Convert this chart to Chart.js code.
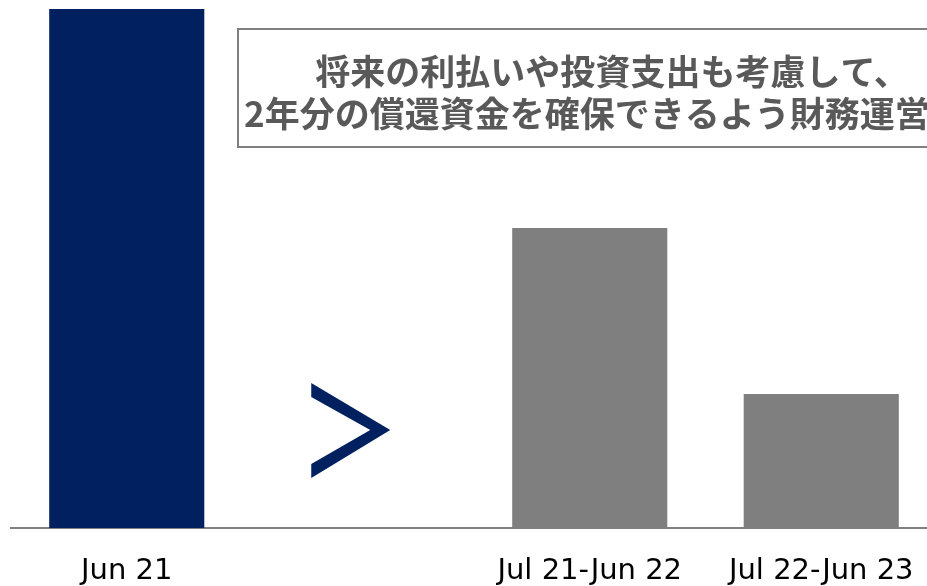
<!DOCTYPE html>
<html>
<head>
<meta charset="utf-8">
<script src="https://cdn.jsdelivr.net/npm/chart.js@4"></script>
<style>
html,body{margin:0;padding:0;background:#fff;overflow:hidden;}
#wrap{width:927px;height:586px;overflow:hidden;position:relative;}
#box{width:940px;height:586px;position:absolute;left:0;top:0;}
</style>
</head>
<body>
<div id="wrap"><div id="box"><canvas id="c"></canvas></div></div>
<script>
const categories = ["Jun 21", "", "Jul 21-Jun 22", "Jul 22-Jun 23"];
const values = [100, null, 57.8, 25.8];
const barColors = ["#002060", "#ffffff", "#7f7f7f", "#7f7f7f"];
const calloutLines = ["将来の利払いや投資支出も考慮して、", "2年分の償還資金を確保できるよう財務運営"];

const decor = {
  id: 'decor',
  afterDraw(chart) {
    const ctx = chart.ctx;
    const x = chart.scales.x;
    const bottom = chart.chartArea.bottom;
    const cx = x.getPixelForValue(1);
    ctx.save();
    ctx.fillStyle = "#002060";
    ctx.beginPath();
    ctx.moveTo(cx - 47, bottom - 145);
    ctx.lineTo(cx + 32, bottom - 98);
    ctx.lineTo(cx - 47, bottom - 50);
    ctx.lineTo(cx - 47, bottom - 64);
    ctx.lineTo(cx + 12, bottom - 98);
    ctx.lineTo(cx - 47, bottom - 131);
    ctx.closePath();
    ctx.fill();
    ctx.fillStyle = "#ffffff";
    ctx.strokeStyle = "#808080";
    ctx.lineWidth = 2;
    ctx.fillRect(238, 29, 760, 118);
    ctx.strokeRect(238, 29, 760, 118);
    ctx.fillStyle = "#595959";
    ctx.font = "bold 35px 'Noto Sans CJK JP'";
    ctx.textBaseline = "middle";
    ctx.textAlign = "center";
    ctx.fillText(calloutLines[0], 612, 72);
    ctx.textAlign = "left";
    ctx.fillText(calloutLines[1], 244, 114);
    ctx.restore();
  }
};

new Chart(document.getElementById('c'), {
  type: 'bar',
  data: {
    labels: categories,
    datasets: [{
      data: values,
      backgroundColor: barColors,
      barPercentage: 0.67,
      categoryPercentage: 1.0
    }]
  },
  options: {
    responsive: true,
    maintainAspectRatio: false,
    animation: false,
    layout: { padding: { left: 11, right: 3, top: 9, bottom: 0 } },
    plugins: { legend: { display: false }, tooltip: { enabled: false } },
    scales: {
      x: {
        grid: { display: false, drawTicks: false },
        border: { display: true, color: "#808080", width: 2 },
        ticks: {
          color: "#000000",
          font: { family: "DejaVu Sans", size: 29 },
          padding: 26,
          maxRotation: 0,
          autoSkip: false
        },
        afterFit(s) { s.height = 58; }
      },
      y: {
        display: false,
        min: 0,
        max: 100
      }
    }
  },
  plugins: [decor]
});
</script>
</body>
</html>
